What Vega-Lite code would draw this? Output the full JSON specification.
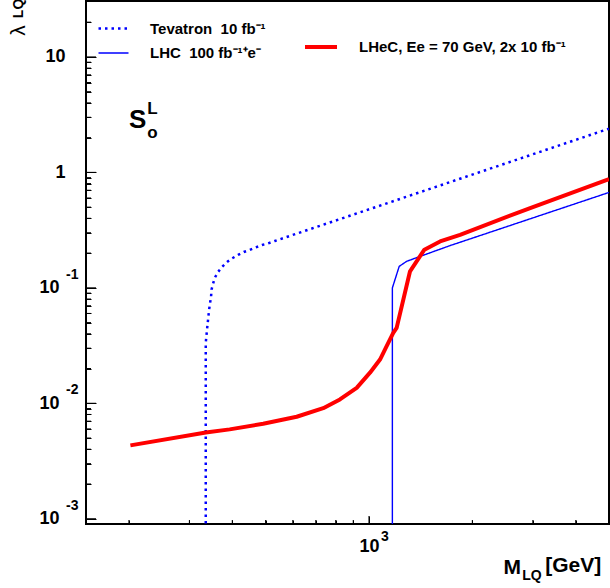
{
  "$schema": "https://vega.github.io/schema/vega-lite/v6.json",
  "width": 523,
  "height": 523,
  "autosize": {"type": "none"},
  "padding": {"left": 86, "top": 1, "right": 1, "bottom": 64},
  "background": "white",
  "config": {"view": {"stroke": "black", "strokeWidth": 2}, "font": "Liberation Sans"},
  "datasets": {
    "curves": [
      {"series": "Tevatron\u00a0\u00a010 fb⁻¹", "i": 1, "M": 334.8, "lam": 0.0008},
      {"series": "Tevatron\u00a0\u00a010 fb⁻¹", "i": 2, "M": 334.8, "lam": 0.0334},
      {"series": "Tevatron\u00a0\u00a010 fb⁻¹", "i": 3, "M": 336.4, "lam": 0.0386},
      {"series": "Tevatron\u00a0\u00a010 fb⁻¹", "i": 4, "M": 337.8, "lam": 0.0441},
      {"series": "Tevatron\u00a0\u00a010 fb⁻¹", "i": 5, "M": 339.4, "lam": 0.0503},
      {"series": "Tevatron\u00a0\u00a010 fb⁻¹", "i": 6, "M": 341.0, "lam": 0.0575},
      {"series": "Tevatron\u00a0\u00a010 fb⁻¹", "i": 7, "M": 342.4, "lam": 0.0648},
      {"series": "Tevatron\u00a0\u00a010 fb⁻¹", "i": 8, "M": 344.7, "lam": 0.074},
      {"series": "Tevatron\u00a0\u00a010 fb⁻¹", "i": 9, "M": 347.0, "lam": 0.0844},
      {"series": "Tevatron\u00a0\u00a010 fb⁻¹", "i": 10, "M": 348.0, "lam": 0.0965},
      {"series": "Tevatron\u00a0\u00a010 fb⁻¹", "i": 11, "M": 351.7, "lam": 0.1087},
      {"series": "Tevatron\u00a0\u00a010 fb⁻¹", "i": 12, "M": 355.6, "lam": 0.1218},
      {"series": "Tevatron\u00a0\u00a010 fb⁻¹", "i": 13, "M": 363.6, "lam": 0.1373},
      {"series": "Tevatron\u00a0\u00a010 fb⁻¹", "i": 14, "M": 373.5, "lam": 0.152},
      {"series": "Tevatron\u00a0\u00a010 fb⁻¹", "i": 15, "M": 386.3, "lam": 0.1675},
      {"series": "Tevatron\u00a0\u00a010 fb⁻¹", "i": 16, "M": 399.5, "lam": 0.18},
      {"series": "Tevatron\u00a0\u00a010 fb⁻¹", "i": 17, "M": 415.9, "lam": 0.1926},
      {"series": "Tevatron\u00a0\u00a010 fb⁻¹", "i": 18, "M": 432.1, "lam": 0.2045},
      {"series": "Tevatron\u00a0\u00a010 fb⁻¹", "i": 19, "M": 449.9, "lam": 0.2128},
      {"series": "Tevatron\u00a0\u00a010 fb⁻¹", "i": 20, "M": 468.4, "lam": 0.224},
      {"series": "Tevatron\u00a0\u00a010 fb⁻¹", "i": 21, "M": 488.6, "lam": 0.2349},
      {"series": "Tevatron\u00a0\u00a010 fb⁻¹", "i": 22, "M": 508.6, "lam": 0.2426},
      {"series": "Tevatron\u00a0\u00a010 fb⁻¹", "i": 23, "M": 532.0, "lam": 0.2545},
      {"series": "Tevatron\u00a0\u00a010 fb⁻¹", "i": 24, "M": 5000, "lam": 2.39},
      {"series": "LHC\u00a0\u00a0100 fb⁻¹⁺e⁻", "i": 1, "M": 1170, "lam": 0.0008},
      {"series": "LHC\u00a0\u00a0100 fb⁻¹⁺e⁻", "i": 2, "M": 1170, "lam": 0.0998},
      {"series": "LHC\u00a0\u00a0100 fb⁻¹⁺e⁻", "i": 3, "M": 1225, "lam": 0.1535},
      {"series": "LHC\u00a0\u00a0100 fb⁻¹⁺e⁻", "i": 4, "M": 1288, "lam": 0.1696},
      {"series": "LHC\u00a0\u00a0100 fb⁻¹⁺e⁻", "i": 5, "M": 1408, "lam": 0.187},
      {"series": "LHC\u00a0\u00a0100 fb⁻¹⁺e⁻", "i": 6, "M": 1722, "lam": 0.232},
      {"series": "LHC\u00a0\u00a0100 fb⁻¹⁺e⁻", "i": 7, "M": 5000, "lam": 0.67},
      {"series": "LHeC, Ee = 70 GeV, 2x 10 fb⁻¹", "i": 1, "M": 202, "lam": 0.00432},
      {"series": "LHeC, Ee = 70 GeV, 2x 10 fb⁻¹", "i": 2, "M": 335, "lam": 0.00559},
      {"series": "LHeC, Ee = 70 GeV, 2x 10 fb⁻¹", "i": 3, "M": 393, "lam": 0.00594},
      {"series": "LHeC, Ee = 70 GeV, 2x 10 fb⁻¹", "i": 4, "M": 492, "lam": 0.00665},
      {"series": "LHeC, Ee = 70 GeV, 2x 10 fb⁻¹", "i": 5, "M": 616, "lam": 0.00764},
      {"series": "LHeC, Ee = 70 GeV, 2x 10 fb⁻¹", "i": 6, "M": 736, "lam": 0.00907},
      {"series": "LHeC, Ee = 70 GeV, 2x 10 fb⁻¹", "i": 7, "M": 823, "lam": 0.0108},
      {"series": "LHeC, Ee = 70 GeV, 2x 10 fb⁻¹", "i": 8, "M": 921, "lam": 0.0136},
      {"series": "LHeC, Ee = 70 GeV, 2x 10 fb⁻¹", "i": 9, "M": 1007, "lam": 0.0184},
      {"series": "LHeC, Ee = 70 GeV, 2x 10 fb⁻¹", "i": 10, "M": 1077, "lam": 0.0239},
      {"series": "LHeC, Ee = 70 GeV, 2x 10 fb⁻¹", "i": 11, "M": 1126, "lam": 0.0312},
      {"series": "LHeC, Ee = 70 GeV, 2x 10 fb⁻¹", "i": 12, "M": 1177, "lam": 0.0407},
      {"series": "LHeC, Ee = 70 GeV, 2x 10 fb⁻¹", "i": 13, "M": 1204, "lam": 0.045},
      {"series": "LHeC, Ee = 70 GeV, 2x 10 fb⁻¹", "i": 14, "M": 1317, "lam": 0.139},
      {"series": "LHeC, Ee = 70 GeV, 2x 10 fb⁻¹", "i": 15, "M": 1450, "lam": 0.214},
      {"series": "LHeC, Ee = 70 GeV, 2x 10 fb⁻¹", "i": 16, "M": 1611, "lam": 0.252},
      {"series": "LHeC, Ee = 70 GeV, 2x 10 fb⁻¹", "i": 17, "M": 1842, "lam": 0.288},
      {"series": "LHeC, Ee = 70 GeV, 2x 10 fb⁻¹", "i": 18, "M": 2947, "lam": 0.491},
      {"series": "LHeC, Ee = 70 GeV, 2x 10 fb⁻¹", "i": 19, "M": 5000, "lam": 0.875}
    ],
    "exponents": [
      {"v": 0.1, "e": "-1"},
      {"v": 0.01, "e": "-2"},
      {"v": 0.001, "e": "-3"}
    ],
    "xmajor": [{"v": 1000}],
    "xminor": [{"v": 200}, {"v": 300}, {"v": 400}, {"v": 500}, {"v": 600}, {"v": 700}, {"v": 800}, {"v": 900}, {"v": 2000}, {"v": 3000}, {"v": 4000}],
    "ymajor": [{"v": 0.001}, {"v": 0.01}, {"v": 0.1}, {"v": 1}, {"v": 10}],
    "yminor": [
      {"v": 0.002}, {"v": 0.003}, {"v": 0.004}, {"v": 0.005}, {"v": 0.006}, {"v": 0.007}, {"v": 0.008}, {"v": 0.009},
      {"v": 0.02}, {"v": 0.03}, {"v": 0.04}, {"v": 0.05}, {"v": 0.06}, {"v": 0.07}, {"v": 0.08}, {"v": 0.09},
      {"v": 0.2}, {"v": 0.3}, {"v": 0.4}, {"v": 0.5}, {"v": 0.6}, {"v": 0.7}, {"v": 0.8}, {"v": 0.9},
      {"v": 2}, {"v": 3}, {"v": 4}, {"v": 5}, {"v": 6}, {"v": 7}, {"v": 8}, {"v": 9}, {"v": 20}
    ]
  },
  "data": {"name": "curves"},
  "layer": [
    {
      "transform": [{"filter": "indexof(datum.series, 'LHeC') < 0"}],
      "mark": {"type": "line", "clip": true, "strokeCap": "butt"},
      "encoding": {
        "x": {
          "field": "M", "type": "quantitative",
          "scale": {"type": "log", "domain": [150, 5000], "nice": false},
          "axis": {
            "orient": "bottom", "zindex": 1, "offset": -8,
            "values": [200, 300, 400, 500, 600, 700, 800, 900, 1000, 2000, 3000, 4000],
            "domain": false, "grid": false, "tickColor": "black", "tickWidth": 1, "tickSize": 8,
            "tickDash": {"condition": {"test": "datum.value != 1000", "value": [0, 4, 4]}, "value": [8, 0]},
            "labelExpr": "datum.value == 1000 ? '10' : ''",
            "labelFont": "Liberation Sans", "labelFontSize": 18, "labelFontWeight": "bold", "labelColor": "black",
            "labelPadding": 13, "labelBaseline": "top", "labelAlign": "center",
            "labelOverlap": false, "labelFlush": false, "labelBound": false,
            "title": "M", "titleFont": "Liberation Sans", "titleFontSize": 21, "titleFontWeight": "bold", "titleColor": "black",
            "titleX": 417, "titleY": 57, "titleAlign": "left", "titleBaseline": "alphabetic", "titleAnchor": null
          }
        },
        "y": {
          "field": "lam", "type": "quantitative",
          "scale": {"type": "log", "domain": [0.0009, 30.5], "nice": false},
          "axis": {
            "orient": "left", "zindex": 1, "offset": -10,
            "values": [0.001, 0.002, 0.003, 0.004, 0.005, 0.006, 0.007, 0.008, 0.009, 0.01, 0.02, 0.03, 0.04, 0.05, 0.06, 0.07, 0.08, 0.09, 0.1, 0.2, 0.3, 0.4, 0.5, 0.6, 0.7, 0.8, 0.9, 1, 2, 3, 4, 5, 6, 7, 8, 9, 10, 20],
            "domain": false, "grid": false, "tickColor": "black", "tickWidth": 1, "tickSize": 10,
            "tickDash": {"condition": {"test": "abs(log(datum.value)/LN10 - round(log(datum.value)/LN10)) > 0.01", "value": [0, 5, 5]}, "value": [10, 0]},
            "labelExpr": "abs(log(datum.value)/LN10 - round(log(datum.value)/LN10)) < 0.01 ? (datum.value == 1 ? '1' : '10') : ''",
            "labelFont": "Liberation Sans", "labelFontSize": 18, "labelFontWeight": "bold", "labelColor": "black",
            "labelPadding": {"condition": {"test": "datum.value >= 0.5", "value": 21}, "value": 27},
            "labelBaseline": "middle", "labelAlign": "right",
            "labelOverlap": false, "labelFlush": false, "labelBound": false,
            "title": "λ", "titleFont": "Liberation Sans", "titleFontSize": 21, "titleFontWeight": "normal", "titleColor": "black",
            "titleAngle": 270, "titleX": -78, "titleY": 29, "titleAlign": "center", "titleBaseline": "middle", "titleAnchor": null
          }
        },
        "order": {"field": "i"},
        "color": {
          "field": "series", "type": "nominal",
          "scale": {"domain": ["Tevatron\u00a0\u00a010 fb⁻¹", "LHC\u00a0\u00a0100 fb⁻¹⁺e⁻"], "range": ["#0000ff", "#0000ff"]},
          "legend": {
            "orient": "none", "legendX": 11, "legendY": 11, "direction": "vertical", "title": null,
            "symbolType": "stroke", "symbolSize": 900, "labelFont": "Liberation Sans", "labelFontSize": 15, "labelLimit": 400,
            "labelFontWeight": "bold", "labelColor": "black", "labelOffset": 20, "rowPadding": -5, "padding": 0
          }
        },
        "strokeDash": {
          "field": "series", "type": "nominal",
          "scale": {"domain": ["Tevatron\u00a0\u00a010 fb⁻¹", "LHC\u00a0\u00a0100 fb⁻¹⁺e⁻"], "range": [[2.5, 4], [1, 0]]},
          "legend": {
            "orient": "none", "legendX": 11, "legendY": 11, "direction": "vertical", "title": null,
            "symbolType": "stroke", "symbolSize": 900, "labelFont": "Liberation Sans", "labelFontSize": 15, "labelLimit": 400,
            "labelFontWeight": "bold", "labelColor": "black", "labelOffset": 20, "rowPadding": -5, "padding": 0
          }
        },
        "strokeWidth": {
          "field": "series", "type": "nominal",
          "scale": {"domain": ["Tevatron\u00a0\u00a010 fb⁻¹", "LHC\u00a0\u00a0100 fb⁻¹⁺e⁻"], "range": [2.5, 1.4]},
          "legend": {
            "orient": "none", "legendX": 11, "legendY": 11, "direction": "vertical", "title": null,
            "symbolType": "stroke", "symbolSize": 900, "labelFont": "Liberation Sans", "labelFontSize": 15, "labelLimit": 400,
            "labelFontWeight": "bold", "labelColor": "black", "labelOffset": 20, "rowPadding": -5, "padding": 0
          }
        }
      }
    },
    {
      "transform": [{"filter": "indexof(datum.series, 'LHeC') >= 0"}],
      "mark": {"type": "line", "clip": true, "strokeWidth": 4, "strokeJoin": "round"},
      "encoding": {
        "x": {"field": "M", "type": "quantitative", "scale": {"type": "log", "domain": [150, 5000], "nice": false}, "axis": null},
        "y": {"field": "lam", "type": "quantitative", "scale": {"type": "log", "domain": [0.0009, 30.5], "nice": false}, "axis": null},
        "order": {"field": "i"},
        "color": {
          "field": "series", "type": "nominal",
          "scale": {"domain": ["LHeC, Ee = 70 GeV, 2x 10 fb⁻¹"], "range": ["#ff0000"]},
          "legend": {
            "orient": "none", "legendX": 217, "legendY": 28, "direction": "vertical", "title": null,
            "symbolType": "stroke", "symbolSize": 1024, "symbolStrokeWidth": 4, "labelFont": "Liberation Sans", "labelFontSize": 15,
            "labelLimit": 400, "labelFontWeight": "bold", "labelColor": "black", "labelOffset": 20, "padding": 0
          }
        }
      }
    },
    {
      "data": {"name": "xmajor"},
      "mark": {"type": "tick", "orient": "vertical", "size": 8, "thickness": 1, "yOffset": -4, "color": "black", "opacity": 1},
      "encoding": {
        "x": {"field": "v", "type": "quantitative", "scale": {"type": "log", "domain": [150, 5000], "nice": false}, "axis": null},
        "y": {"datum": 0.0009, "type": "quantitative", "scale": {"type": "log", "domain": [0.0009, 30.5], "nice": false}, "axis": null}
      }
    },
    {
      "data": {"name": "xminor"},
      "mark": {"type": "tick", "orient": "vertical", "size": 4, "thickness": 1, "yOffset": -2, "color": "black", "opacity": 1},
      "encoding": {
        "x": {"field": "v", "type": "quantitative", "scale": {"type": "log", "domain": [150, 5000], "nice": false}, "axis": null},
        "y": {"datum": 0.0009, "type": "quantitative", "scale": {"type": "log", "domain": [0.0009, 30.5], "nice": false}, "axis": null}
      }
    },
    {
      "data": {"name": "ymajor"},
      "mark": {"type": "tick", "orient": "horizontal", "size": 10, "thickness": 1, "xOffset": 5, "color": "black", "opacity": 1},
      "encoding": {
        "x": {"datum": 150, "type": "quantitative", "scale": {"type": "log", "domain": [150, 5000], "nice": false}, "axis": null},
        "y": {"field": "v", "type": "quantitative", "scale": {"type": "log", "domain": [0.0009, 30.5], "nice": false}, "axis": null}
      }
    },
    {
      "data": {"name": "yminor"},
      "mark": {"type": "tick", "orient": "horizontal", "size": 5, "thickness": 1, "xOffset": 2.5, "color": "black", "opacity": 1},
      "encoding": {
        "x": {"datum": 150, "type": "quantitative", "scale": {"type": "log", "domain": [150, 5000], "nice": false}, "axis": null},
        "y": {"field": "v", "type": "quantitative", "scale": {"type": "log", "domain": [0.0009, 30.5], "nice": false}, "axis": null}
      }
    },
    {
      "data": {"name": "exponents"},
      "mark": {"type": "text", "align": "right", "baseline": "middle", "dy": -13, "font": "Liberation Sans", "fontWeight": "bold", "fontSize": 14, "color": "black"},
      "encoding": {
        "x": {"datum": 142.7, "type": "quantitative", "scale": {"type": "log", "domain": [150, 5000], "nice": false}, "axis": null},
        "y": {"field": "v", "type": "quantitative", "scale": {"type": "log", "domain": [0.0009, 30.5], "nice": false}, "axis": null},
        "text": {"field": "e"}
      }
    },
    {
      "data": {"values": [{}]},
      "mark": {"type": "text", "align": "left", "baseline": "alphabetic", "font": "Liberation Sans", "fontWeight": "bold", "fontSize": 14, "color": "black"},
      "encoding": {
        "x": {"datum": 1084, "type": "quantitative", "scale": {"type": "log", "domain": [150, 5000], "nice": false}, "axis": null},
        "y": {"datum": 0.00064, "type": "quantitative", "scale": {"type": "log", "domain": [0.0009, 30.5], "nice": false}, "axis": null},
        "text": {"value": "3"}
      }
    },
    {
      "data": {"values": [{}]},
      "mark": {"type": "text", "align": "left", "baseline": "alphabetic", "font": "Liberation Sans", "fontWeight": "bold", "fontSize": 14, "color": "black"},
      "encoding": {
        "x": {"datum": 2793, "type": "quantitative", "scale": {"type": "log", "domain": [150, 5000], "nice": false}, "axis": null},
        "y": {"datum": 0.0002945, "type": "quantitative", "scale": {"type": "log", "domain": [0.0009, 30.5], "nice": false}, "axis": null},
        "text": {"value": "LQ"}
      }
    },
    {
      "data": {"values": [{}]},
      "mark": {"type": "text", "align": "left", "baseline": "alphabetic", "font": "Liberation Sans", "fontWeight": "bold", "fontSize": 21, "color": "black"},
      "encoding": {
        "x": {"datum": 3260, "type": "quantitative", "scale": {"type": "log", "domain": [150, 5000], "nice": false}, "axis": null},
        "y": {"datum": 0.0003454, "type": "quantitative", "scale": {"type": "log", "domain": [0.0009, 30.5], "nice": false}, "axis": null},
        "text": {"value": "[GeV]"}
      }
    },
    {
      "data": {"values": [{}]},
      "mark": {"type": "text", "align": "center", "baseline": "middle", "angle": 270, "font": "Liberation Sans", "fontWeight": "bold", "fontSize": 14, "color": "black"},
      "encoding": {
        "x": {"datum": 96, "type": "quantitative", "scale": {"type": "log", "domain": [150, 5000], "nice": false}, "axis": null},
        "y": {"datum": 26.3, "type": "quantitative", "scale": {"type": "log", "domain": [0.0009, 30.5], "nice": false}, "axis": null},
        "text": {"value": "LQ"}
      }
    },
    {
      "data": {"values": [{}]},
      "mark": {"type": "text", "align": "left", "baseline": "alphabetic", "font": "Liberation Sans", "fontWeight": "bold", "fontSize": 26, "color": "black"},
      "encoding": {
        "x": {"datum": 200, "type": "quantitative", "scale": {"type": "log", "domain": [150, 5000], "nice": false}, "axis": null},
        "y": {"datum": 2.4, "type": "quantitative", "scale": {"type": "log", "domain": [0.0009, 30.5], "nice": false}, "axis": null},
        "text": {"value": "S"}
      }
    },
    {
      "data": {"values": [{}]},
      "mark": {"type": "text", "align": "left", "baseline": "alphabetic", "font": "Liberation Sans", "fontWeight": "bold", "fontSize": 17, "color": "black"},
      "encoding": {
        "x": {"datum": 226, "type": "quantitative", "scale": {"type": "log", "domain": [150, 5000], "nice": false}, "axis": null},
        "y": {"datum": 3.2, "type": "quantitative", "scale": {"type": "log", "domain": [0.0009, 30.5], "nice": false}, "axis": null},
        "text": {"value": "L"}
      }
    },
    {
      "data": {"values": [{}]},
      "mark": {"type": "text", "align": "left", "baseline": "alphabetic", "font": "Liberation Sans", "fontWeight": "bold", "fontSize": 17, "color": "black"},
      "encoding": {
        "x": {"datum": 226, "type": "quantitative", "scale": {"type": "log", "domain": [150, 5000], "nice": false}, "axis": null},
        "y": {"datum": 2.0, "type": "quantitative", "scale": {"type": "log", "domain": [0.0009, 30.5], "nice": false}, "axis": null},
        "text": {"value": "o"}
      }
    }
  ],
  "resolve": {
    "scale": {"color": "independent", "strokeDash": "independent", "strokeWidth": "independent"},
    "axis": {"x": "independent", "y": "independent"}
  }
}
